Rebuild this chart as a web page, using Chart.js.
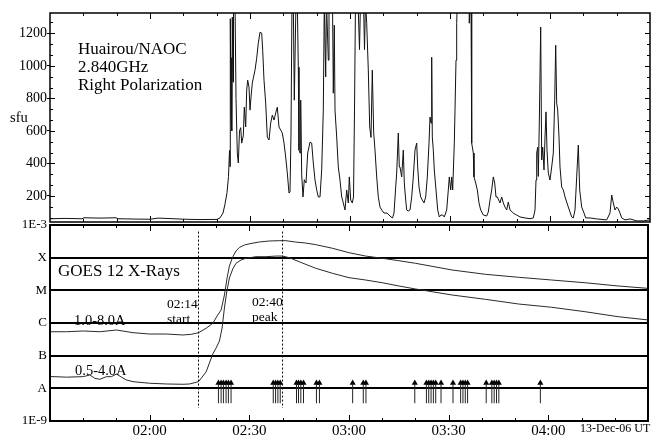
<!DOCTYPE html>
<html><head><meta charset="utf-8">
<script src="https://cdn.jsdelivr.net/npm/chart.js@4.4.0/dist/chart.umd.min.js"></script>
<style>
html,body{margin:0;padding:0;background:#fff;}
#wrap{position:relative;width:652px;height:435px;overflow:hidden;font-family:'Liberation Serif','Times New Roman',serif;color:#000;}
canvas{position:absolute;left:0;top:0;}
.t{position:absolute;white-space:nowrap;line-height:1;}
</style></head><body>
<div id="wrap">
<canvas id="radio" width="652" height="435"></canvas>
<canvas id="goes" width="652" height="435"></canvas>
<div class="t" style="left:78px;top:40px;font-size:17px;line-height:18px">Huairou/NAOC<br>2.840GHz<br>Right Polarization</div>
<div class="t" style="left:10px;top:110px;font-size:14.5px">sfu</div>
<div class="t" style="left:58px;top:262px;font-size:17px">GOES 12 X-Rays</div>
<div class="t" style="left:74px;top:313px;font-size:14.5px">1.0-8.0A</div>
<div class="t" style="left:75px;top:363px;font-size:14.5px">0.5-4.0A</div>
<div class="t" style="left:167px;top:296px;font-size:13.5px;line-height:15px">02:14<br>start</div>
<div class="t" style="left:252px;top:294px;font-size:13.5px;line-height:15px">02:40<br>peak</div>
<div class="t" style="left:580px;top:422px;font-size:12px">13-Dec-06 UT</div>
</div>
<script>
// ---- time in minutes after 00:00 UT, 13 Dec 2006 ----
const radioTime = [90,94.5,99.6,100.2,105,109.8,110.4,115.5,120,122.4,126,130.5,135,140.1,141,141.9,142.5,143.1,143.55,143.85,144,144.09,144.3,144.45,144.6,144.69,144.9,145.05,145.5,145.8,146.19,146.49,146.85,147.21,147.51,147.99,148.29,148.71,149.01,149.31,149.7,150,150.3,150.69,150.99,151.5,152.01,152.49,153,153.51,153.81,154.2,154.71,155.19,155.7,156.21,156.69,157.2,157.71,158.19,158.7,159.21,159.69,160.2,160.71,161.19,161.7,162,162.3,162.6,162.99,163.29,163.8,164.19,164.49,164.7,165,165.21,165.51,165.9,166.29,166.8,167.31,168,168.51,168.99,169.5,170.01,170.49,171,171.51,171.99,172.29,172.71,172.95,173.49,173.7,174.75,174.99,175.29,175.5,176.01,176.49,177,177.51,177.99,178.5,179.01,179.49,179.79,180.21,180.69,181.05,181.35,181.65,182.4,182.85,183.15,184.05,184.35,184.65,185.01,185.49,185.91,186.3,186.69,187.11,187.5,188.01,188.49,189,189.51,190.2,191.1,191.7,192.3,192.75,193.2,193.71,194.01,194.49,194.79,195,195.51,195.99,196.29,196.71,197.01,197.49,198,198.51,198.99,199.5,200.01,200.31,200.7,201.21,201.69,202.2,202.71,203.19,203.7,204,204.3,204.51,204.69,204.99,205.29,205.8,206.31,206.79,207.3,207.81,208.29,209.01,209.49,209.79,210.21,210.51,210.81,211.29,211.5,211.8,212.01,212.19,215.7,215.79,216,216.3,216.51,216.99,217.2,217.71,218.19,218.7,219.21,219.99,221.01,221.49,222,222.51,222.99,223.41,223.8,224.19,224.61,225,225.51,225.99,226.5,227.01,227.49,228,228.99,229.98,231,232.5,234,234.99,235.5,235.8,236.01,236.31,236.49,236.79,237.21,237.51,237.81,238.2,238.5,238.8,239.1,239.49,240,240.51,240.99,241.41,241.71,242.01,242.31,242.7,243,243.51,243.99,244.5,245.49,246.51,246.99,247.5,248.01,248.49,248.91,249.51,250.2,250.71,252,254.01,257.01,258,258.51,258.99,259.5,260.01,260.49,261,261.51,262.5,264,266.01,267.99,270];
const radioSfu = [60,62,60,66,64,66,60,58,57,64,61,57,55,56,65,95,150,220,320,480,380,1290,700,1050,600,1300,900,1400,1400,800,464,403,600,620,525,570,746,624,851,912,869,728,808,894,924,974,1047,1139,1207,1201,1096,912,771,562,544,648,697,667,710,746,624,605,587,525,439,341,218,225,587,1400,1400,789,1400,1400,992,482,464,789,330,194,300,280,464,531,525,403,298,237,194,194,360,728,1400,932,1400,1035,1400,1400,832,1250,728,562,378,298,194,157,114,237,157,317,175,157,194,728,1400,1400,1100,1400,1400,1100,1400,1262,974,624,560,974,587,482,317,194,132,114,95,95,83,71,65,95,255,341,587,378,378,317,482,280,175,114,108,114,194,317,482,525,378,255,194,175,157,194,317,525,685,648,1053,562,482,360,237,114,71,83,83,71,114,237,317,237,317,237,525,728,1035,1262,1400,1400,1262,1400,1400,525,464,317,280,237,157,114,83,77,102,175,237,317,280,194,194,175,157,194,157,132,114,163,114,95,83,71,65,60,65,114,298,464,500,320,648,1239,421,501,360,562,717,482,341,298,378,464,789,1127,771,728,562,378,255,237,194,132,71,65,114,317,513,237,132,95,65,65,59,53,95,206,157,114,132,120,95,65,53,59,47,47,53];

const longTime = [90,95,100,105,110,115,120,125,130,132.5,134.7,137,139,140.5,141.5,142.5,143.3,144,145,146,147,148.5,150.5,153,156,159,161,164,167,170,175,180,185,190,195,200,211,221,231,241,251,261,270];
const longFlux = [5.4e-7,5.4e-7,5.7e-7,5.4e-7,6.1e-7,5.05e-7,4.6e-7,4.6e-7,4.3e-7,4.5e-7,5.05e-7,6.9e-7,9.8e-7,1.76e-6,2.5e-6,7.2e-6,2.39e-5,5.56e-5,1.05e-4,1.6e-4,2.05e-4,2.44e-4,2.72e-4,3.02e-4,3.24e-4,3.31e-4,3.31e-4,3.0e-4,2.8e-4,2.5e-4,1.94e-4,1.42e-4,1.12e-4,9.57e-5,8.08e-5,6.73e-5,4.2e-5,3.1e-5,2.51e-5,2.07e-5,1.71e-5,1.36e-5,1.15e-5];

const shortTime = [90,95,100,102,103.5,105,107,108.5,110,111.5,113,115,120,125,130,132,134.7,137,139,140,141,141.8,142.5,143.2,144,145,146,147.5,149,152,155,158,160,162,165,170,175,180,185,190,195,200,211,221,231,241,251,261,270];
const shortFlux = [2.3e-8,2.2e-8,2.28e-8,2.56e-8,2.03e-8,1.89e-8,2.28e-8,2.28e-8,2.75e-8,2.2e-8,1.8e-8,1.6e-8,1.43e-8,1.36e-8,1.33e-8,1.36e-8,1.6e-8,3.2e-8,1.13e-7,1.72e-7,2.81e-7,7.0e-7,2.88e-6,8.9e-6,2.39e-5,4.5e-5,6.73e-5,8.49e-5,9.57e-5,1.07e-4,1.07e-4,1.12e-4,1.12e-4,1.0e-4,7.5e-5,4.73e-5,3.33e-5,2.44e-5,2.07e-5,1.71e-5,1.36e-5,1.10e-5,7.2e-6,5.32e-6,3.82e-6,3.03e-6,2.22e-6,1.56e-6,1.24e-6];

// radio burst marks (arrows)
const arrowTimes = [140.7,141.5,142.2,143.0,143.7,144.5,157.2,157.9,158.6,159.3,164.2,164.8,165.5,166.3,170.2,171.1,181.1,184.3,185.1,199.8,203.3,204.0,204.7,205.4,206.1,207.7,211.3,213.6,214.3,215.0,215.7,221.3,223.0,223.7,224.4,225.1,237.6];
const startTime = 134.7;   // 02:14 start marker
const peakTime = 160;      // 02:40 peak marker

// axis ticks
const xLabelTimes = [120,150,180,210,240];
const xTickTimes = [100,110,120,130,140,150,160,170,180,190,200,210,220,230,240,250,260];
const radioTicks = [200,400,600,800,1000,1200];
const radioMinor = [66.7,133.3,266.7,333.3,466.7,533.3,666.7,733.3,866.7,933.3,1066.7,1133.3,1266.7];
const goesLevels = [1e-9,1e-8,1e-7,1e-6,1e-5,1e-4,1e-3];
const goesLabels = ['1E-9','A','B','C','M','X','1E-3'];

const FONT = "'Liberation Serif','Times New Roman',serif";
const fmt = v => { const h = Math.floor(v/60), m = Math.round(v%60); return String(h).padStart(2,'0')+':'+String(m).padStart(2,'0'); };
const pts = (tx, ty) => tx.map((t,i)=>({x:t,y:ty[i]}));

const frame = {
  id:'frame',
  afterDatasetsDraw(chart, args, opts){
    const {ctx, chartArea:a} = chart;
    const xs = chart.scales.x, ys = chart.scales.y;
    ctx.save();
    ctx.strokeStyle = '#000';
    ctx.lineWidth = 1;
    ctx.beginPath();
    for (const t of xTickTimes){
      const px = Math.round(xs.getPixelForValue(t))+0.5;
      const len = (t%30===0) ? 6 : 3;
      ctx.moveTo(px,a.top); ctx.lineTo(px,a.top+len);
      ctx.moveTo(px,a.bottom); ctx.lineTo(px,a.bottom-len);
    }
    if (opts.yMinor){
      for (const v of opts.yMinor){
        const py = Math.round(ys.getPixelForValue(v))+0.5;
        ctx.moveTo(a.left,py); ctx.lineTo(a.left+3,py);
        ctx.moveTo(a.right,py); ctx.lineTo(a.right-3,py);
      }
      for (const v of radioTicks){
        const py = Math.round(ys.getPixelForValue(v))+0.5;
        ctx.moveTo(a.left,py); ctx.lineTo(a.left+5,py);
        ctx.moveTo(a.right,py); ctx.lineTo(a.right-5,py);
      }
    }
    ctx.stroke();
    ctx.lineWidth = opts.lw || 1.5;
    ctx.strokeRect(a.left, a.top, a.right-a.left, a.bottom-a.top);
    ctx.restore();
  }
};

new Chart(document.getElementById('radio'), {
  type:'line',
  data:{datasets:[{data:pts(radioTime,radioSfu), borderColor:'#111', borderWidth:1, pointRadius:0, tension:0, fill:false}]},
  options:{
    responsive:false, animation:false, devicePixelRatio:1,
    layout:{padding:{left:0,right:2,top:13,bottom:213}},
    plugins:{legend:{display:false}, tooltip:{enabled:false}, frame:{lw:1.5, yMinor:radioMinor}},
    scales:{
      x:{type:'linear', min:90, max:270, display:false},
      y:{type:'linear', min:40, max:1325,
         afterBuildTicks:s=>{s.ticks = radioTicks.map(v=>({value:v}));},
         afterFit:s=>{s.width = 50;},
         grid:{drawOnChartArea:false, drawTicks:true, tickLength:3, color:'#000'},
         border:{display:false},
         ticks:{color:'#000', font:{family:FONT, size:14}, padding:0, callback:v=>String(v)}}
    }
  },
  plugins:[frame]
});

const arrowShafts = [];
arrowTimes.forEach(t=>{ arrowShafts.push({x:t,y:3.5e-9},{x:t,y:1.4e-8},{x:t,y:null}); });

new Chart(document.getElementById('goes'), {
  type:'line',
  data:{datasets:[
    {data:pts(longTime,longFlux), borderColor:'#2a2a2a', borderWidth:1, pointRadius:0, tension:0},
    {data:pts(shortTime,shortFlux), borderColor:'#2a2a2a', borderWidth:1, pointRadius:0, tension:0},
    {data:[{x:startTime,y:6.3e-4},{x:startTime,y:2.5e-9}], borderColor:'#000', borderWidth:1, borderDash:[2,2], pointRadius:0},
    {data:[{x:peakTime,y:6.3e-4},{x:peakTime,y:2.5e-9}], borderColor:'#000', borderWidth:1, borderDash:[2,2], pointRadius:0},
    {data:arrowShafts, borderColor:'#222', borderWidth:1, pointRadius:0, spanGaps:false},
    {data:arrowTimes.map(t=>({x:t,y:1.45e-8})), showLine:false, pointStyle:'triangle', pointRadius:3.5, backgroundColor:'#000', borderColor:'#000', borderWidth:0}
  ]},
  options:{
    responsive:false, animation:false, devicePixelRatio:1,
    layout:{padding:{left:0,right:2,top:225,bottom:0}},
    plugins:{legend:{display:false}, tooltip:{enabled:false}, frame:{lw:2}},
    scales:{
      x:{type:'linear', min:90, max:270,
         afterBuildTicks:s=>{s.ticks = xLabelTimes.map(v=>({value:v}));},
         afterFit:s=>{s.height = 14;},
         grid:{display:false, drawTicks:false},
         border:{display:false},
         ticks:{color:'#000', font:{family:FONT, size:15}, padding:1, maxRotation:0, autoSkip:false, callback:v=>fmt(v)}},
      y:{type:'logarithmic', min:1e-9, max:1e-3,
         afterBuildTicks:s=>{s.ticks = goesLevels.map(v=>({value:v}));},
         afterFit:s=>{s.width = 50;},
         grid:{drawOnChartArea:true, drawTicks:false, lineWidth:2,
               color:c=>(c.index===0||c.index===6)?'rgba(0,0,0,0)':'#000'},
         border:{display:false},
         ticks:{color:'#000', font:{family:FONT, size:13}, padding:3, autoSkip:false,
                callback:(v,i)=>goesLabels[i]}}
    }
  },
  plugins:[frame]
});
</script>
</body></html>
